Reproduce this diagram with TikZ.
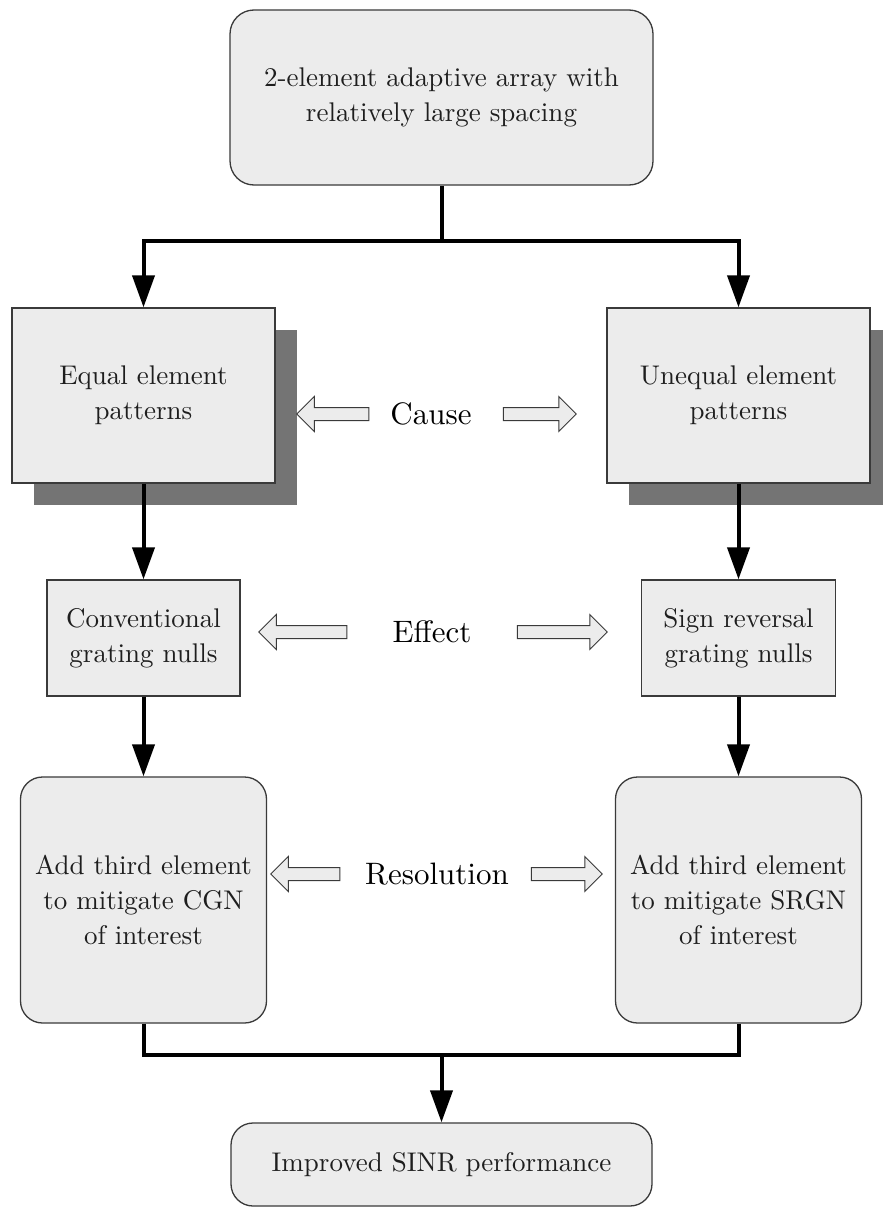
\documentclass[tikz,border=0pt]{standalone}
\usepackage{fontspec}
\setmainfont{lmroman10-regular.otf}
\usetikzlibrary{arrows.meta,shapes.arrows,shadows}
\definecolor{boxfill}{HTML}{ECECEC}
\definecolor{boxline}{HTML}{3A3A3A}
\definecolor{shadowgray}{HTML}{747474}
\definecolor{txt}{HTML}{1E1E1E}

\begin{document}
\begin{tikzpicture}[x=1pt,y=-1pt,
  box/.style={draw=boxline, line width=1.3pt, fill=boxfill, align=center,
    text=txt, font=\fontsize{27}{35}\selectfont, inner sep=0pt},
  roundbox/.style={box, rounded corners=24pt},
  shadowbox/.style={box, drop shadow={shadow xshift=22pt, shadow yshift=-22pt,
    fill=shadowgray, opacity=1}},
  conn/.style={line width=4pt, black},
  arr/.style={conn, -{Triangle[length=32pt,width=22pt]}},
  hint/.style={single arrow, draw=boxline, fill=boxfill, line width=1pt,
    inner xsep=0pt, inner ysep=6pt, text height=0pt, text depth=0pt,
    single arrow head extend=11pt, single arrow tip angle=90},
  tag/.style={font=\fontsize{31}{38}\selectfont, text=black, inner sep=0pt}
]
\useasboundingbox[fill=white] (0,0) rectangle (883,1210);

% boxes
\node[roundbox, minimum width=423pt, minimum height=175pt] (top) at (441.5,97.5)
  {2-element adaptive array with\\relatively large spacing};
\node[shadowbox, minimum width=263pt, minimum height=175pt] (equal) at (143.5,395.5)
  {Equal element\\patterns};
\node[shadowbox, minimum width=263pt, minimum height=175pt] (unequal) at (738.5,395.5)
  {Unequal element\\patterns};
\node[box, minimum width=193pt, minimum height=116pt] (conv) at (143.5,638)
  {Conventional\\grating nulls};
\node[box, minimum width=194pt, minimum height=116pt] (sign) at (738.5,638)
  {Sign reversal\\grating nulls};
\node[roundbox, rounded corners=22pt, minimum width=246pt, minimum height=246pt] (addcgn) at (143.5,900)
  {Add third element\\to mitigate CGN\\of interest};
\node[roundbox, rounded corners=22pt, minimum width=246pt, minimum height=246pt] (addsrgn) at (738.5,900)
  {Add third element\\to mitigate SRGN\\of interest};
\node[roundbox, rounded corners=22pt, minimum width=421pt, minimum height=83pt] (final) at (441.5,1164.5)
  {Improved SINR performance};

% middle labels with hollow arrows
\node[tag] (cause) at (431,414) {Cause};
\node[hint, shape border rotate=180, minimum height=72pt] (causeL) at (336,414) {};
\node[hint, minimum height=73pt] (causeR) at (536.5,414) {};
\node[tag] (effect) at (432,632) {Effect};
\node[hint, shape border rotate=180, minimum height=88pt] (effectL) at (306,632) {};
\node[hint, minimum height=90pt] (effectR) at (559,632) {};
\node[tag] (resol) at (437,874) {Resolution};
\node[hint, shape border rotate=180, minimum height=69pt] (resolL) at (308.5,874) {};
\node[hint, minimum height=71pt] (resolR) at (563.5,874) {};

% flow connectors
\draw[conn] (top.south) -- ++(0,55) coordinate (split);
\draw[arr] (split) -| (equal.north);
\draw[arr] (split) -| (unequal.north);
\draw[arr] (equal.south) -- (conv.north);
\draw[arr] (unequal.south) -- (sign.north);
\draw[arr] (conv.south) -- (addcgn.north);
\draw[arr] (sign.south) -- (addsrgn.north);
\coordinate (merge) at (441.5,1055);
\draw[conn] (addcgn.south) |- (merge);
\draw[conn] (addsrgn.south) |- (merge);
\draw[arr] (merge) -- (final.north);
\end{tikzpicture}
\end{document}
